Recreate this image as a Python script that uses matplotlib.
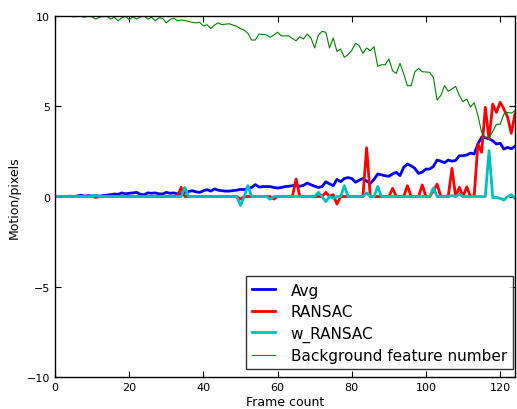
import numpy as np
import matplotlib
matplotlib.use("Agg")
import matplotlib.pyplot as plt

frames = np.arange(125)

avg = [0.0, 0.0, 0.0, 0.0, 0.02, 0.0, 0.03, 0.07, 0.02, 0.05,
       0.03, 0.05, 0.02, 0.05, 0.08, 0.1, 0.14, 0.12, 0.2, 0.15,
       0.18, 0.2, 0.23, 0.12, 0.1, 0.2, 0.18, 0.2, 0.15, 0.14,
       0.23, 0.18, 0.2, 0.15, 0.14, 0.23, 0.28, 0.32, 0.26, 0.23,
       0.32, 0.38, 0.3, 0.42, 0.35, 0.32, 0.3, 0.3, 0.33, 0.35,
       0.4, 0.38, 0.45, 0.5, 0.66, 0.52, 0.55, 0.55, 0.55, 0.5,
       0.47, 0.5, 0.55, 0.57, 0.6, 0.64, 0.57, 0.62, 0.75, 0.65,
       0.57, 0.5, 0.55, 0.82, 0.7, 0.6, 0.95, 0.82, 1.0, 1.05,
       1.0, 0.79, 0.9, 1.0, 0.85, 0.73, 0.95, 1.25, 1.2, 1.15,
       1.12, 1.25, 1.34, 1.16, 1.62, 1.8, 1.7, 1.56, 1.28, 1.35,
       1.52, 1.52, 1.67, 2.02, 1.96, 1.87, 2.02, 1.96, 2.0, 2.26,
       2.26, 2.3, 2.41, 2.35, 2.91, 3.28, 3.25, 3.2, 3.09, 2.91,
       2.95, 2.63, 2.72, 2.65, 2.78]

ransac = [0.0] * 125
for i, v in {11: -0.05, 34: 0.51, 50: -0.14, 59: -0.14, 65: 0.97,
             73: 0.23, 75: 0.1, 76: -0.42, 84: 2.7, 91: 0.45, 95: 0.6,
             99: 0.64, 102: 0.3, 103: 0.69, 107: 1.56, 109: 0.51,
             111: 0.54, 113: 0.04, 114: 2.9, 115: 2.45, 116: 4.94,
             117: 3.19, 118: 5.12, 119: 4.66, 120: 5.22, 121: 4.85,
             122: 4.4, 123: 3.5, 124: 4.57}.items():
    ransac[i] = v

w_ransac = [0.0] * 125
for i, v in {11: 0.05, 35: 0.5, 50: -0.5, 52: 0.6, 58: -0.15, 71: 0.23,
             73: -0.29, 75: -0.1, 78: 0.6, 84: 0.2, 87: 0.56, 102: 0.47,
             107: 0.05, 109: 0.12, 117: 2.54, 118: -0.05, 119: -0.05,
             120: -0.1, 121: -0.2, 122: 0.0, 123: 0.1, 124: -0.1}.items():
    w_ransac[i] = v

background = [10.1, 10.1, 10.05, 10.1, 10.05, 9.95, 9.98, 9.98, 9.93, 10.0,
              9.95, 9.83, 9.93, 9.98, 10.0, 9.83, 9.93, 9.74, 9.9, 9.98,
              9.8, 9.95, 9.83, 9.95, 10.0, 9.83, 9.93, 9.74, 9.9, 9.88,
              9.62, 9.8, 9.88, 9.74, 9.78, 9.75, 9.7, 9.65, 9.62, 9.65,
              9.45, 9.52, 9.31, 9.5, 9.62, 9.52, 9.55, 9.57, 9.5, 9.43,
              9.3, 9.22, 9.04, 8.67, 8.67, 9.0, 8.98, 8.96, 8.82, 8.95,
              9.1, 8.9, 8.9, 8.9, 8.75, 8.63, 8.85, 8.73, 9.0, 8.78,
              8.23, 8.95, 9.15, 9.1, 8.23, 8.78, 8.04, 8.17, 7.71, 7.86,
              8.1, 8.49, 8.36, 7.93, 8.23, 8.08, 8.3, 7.21, 7.3, 7.3,
              7.62, 6.97, 6.82, 7.38, 6.8, 6.14, 6.14, 6.91, 7.1, 6.91,
              6.9, 6.88, 6.6, 5.35, 5.6, 6.14, 5.83, 5.96, 6.1, 5.6,
              5.25, 5.4, 4.95, 5.2, 4.5, 3.56, 3.28, 3.28, 3.6, 4.0,
              4.0, 4.57, 4.66, 4.62, 4.75]

labels = ["Avg", "RANSAC", "w_RANSAC", "Background feature number"]

fig = plt.figure(figsize=(5.17, 4.10), dpi=100)
ax = fig.add_axes([0.1064, 0.078, 0.8897, 0.8805])
ax.plot(frames, avg, color=(0, 0, 1), lw=2, label=labels[0])
ax.plot(frames, ransac, color=(1, 0, 0), lw=2, label=labels[1])
ax.plot(frames, w_ransac, color=(0, 0.75, 0.75), lw=2, label=labels[2])
ax.plot(frames, background, color=(0, 0.5, 0), lw=0.8, label=labels[3])

ax.set_xlim(0, 124)
ax.set_ylim(-10, 10)
ax.set_xticks([0, 20, 40, 60, 80, 100, 120])
ax.set_yticks([-10, -5, 0, 5, 10])
ax.tick_params(direction="in", top=True, right=True, labelsize=8, length=4)
for s in ax.spines.values():
    s.set_linewidth(1.0)
ax.set_xlabel("Frame count", fontsize=9, labelpad=2)
ax.set_ylabel("Motion/pixels", fontsize=9)

leg = ax.legend(loc="lower right", bbox_to_anchor=(0.9957, 0.022),
                fontsize=11, handlelength=1.5, handletextpad=1.0,
                fancybox=False, frameon=True, borderaxespad=0.0,
                labelspacing=0.42)
leg.get_frame().set_edgecolor("black")
leg.get_frame().set_linewidth(1.0)

fig.savefig("out.png", dpi=100, facecolor="white")
